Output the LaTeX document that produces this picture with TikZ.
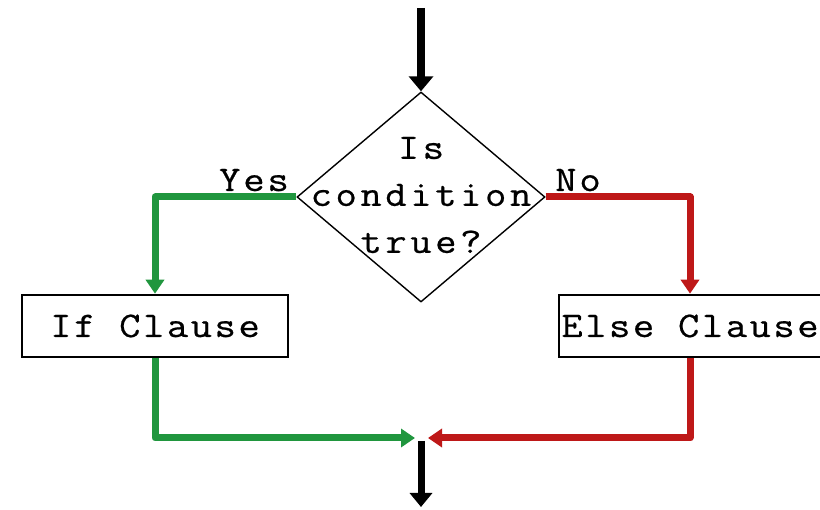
\documentclass[tikz,border=0pt]{standalone}
\usepackage{fontspec}
\newfontfamily\monoD[FakeStretch=1.15,FakeBold=0.6,LetterSpace=10]{Latin Modern Mono}
\newfontfamily\monoB[FakeStretch=1.15,FakeBold=0.6,LetterSpace=7]{Latin Modern Mono}
\newfontfamily\monoL[FakeStretch=1.15,FakeBold=0.6,LetterSpace=8]{Latin Modern Mono}
\usetikzlibrary{shapes.geometric,arrows.meta}
\definecolor{ygreen}{RGB}{32,150,62}
\definecolor{nred}{RGB}{190,24,24}
\begin{document}
\begin{tikzpicture}[x=1pt,y=-1pt,
  dectext/.style={inner sep=0pt,align=center,font=\monoD\fontsize{36}{47}\selectfont},
  clausebox/.style={draw=black,line width=2.6pt,inner sep=0pt,minimum height=62pt,font=\monoB\fontsize{36}{40}\selectfont},
  lbl/.style={inner sep=0pt,anchor=base,font=\monoL\fontsize{36}{40}\selectfont},
  blackarrow/.style={draw=black,line width=8pt,-{Triangle[width=24pt,length=15pt]}},
  greenarrow/.style={draw=ygreen,line width=7pt,line join=round,-{Triangle[width=18pt,length=14pt]}},
  redarrow/.style={draw=nred,line width=7pt,line join=round,-{Triangle[width=18pt,length=14pt]}}]
\useasboundingbox (0,0) rectangle (820,510);
\fill[white] (0,0) rectangle (820,510);
% decision
\node[diamond,draw=black,line width=1.4pt,minimum width=248pt,minimum height=210pt,inner sep=0pt] (dec) at (421,197) {};
\node[dectext] (dectxt) at (421,195) {Is\\condition\\true?};
% clauses
\node[clausebox,minimum width=266pt] (ifbox) at (155,326) {If Clause};
\node[clausebox,minimum width=262pt] (elsebox) at (690,326) {Else Clause};
% labels
\node[lbl] (yes) at (254,191) {Yes};
\node[lbl] (no) at (578,191) {No};
% coordinates
\coordinate (start) at (421,8);
\coordinate (jl) at (415,438);
\coordinate (jr) at (428,438);
\coordinate (jb) at (421,441);
\coordinate (finish) at (421,507);
% connectors
\draw[blackarrow] (start) -- (dec.north);
\draw[greenarrow] (dec.west) -| (ifbox.north);
\draw[redarrow] (dec.east) -| (elsebox.north);
\draw[greenarrow] (ifbox.south) |- (jl);
\draw[redarrow] (elsebox.south) |- (jr);
\draw[blackarrow,line width=7pt,-{Triangle[width=22pt,length=14pt]}] (jb) -- (finish);
\end{tikzpicture}
\end{document}
